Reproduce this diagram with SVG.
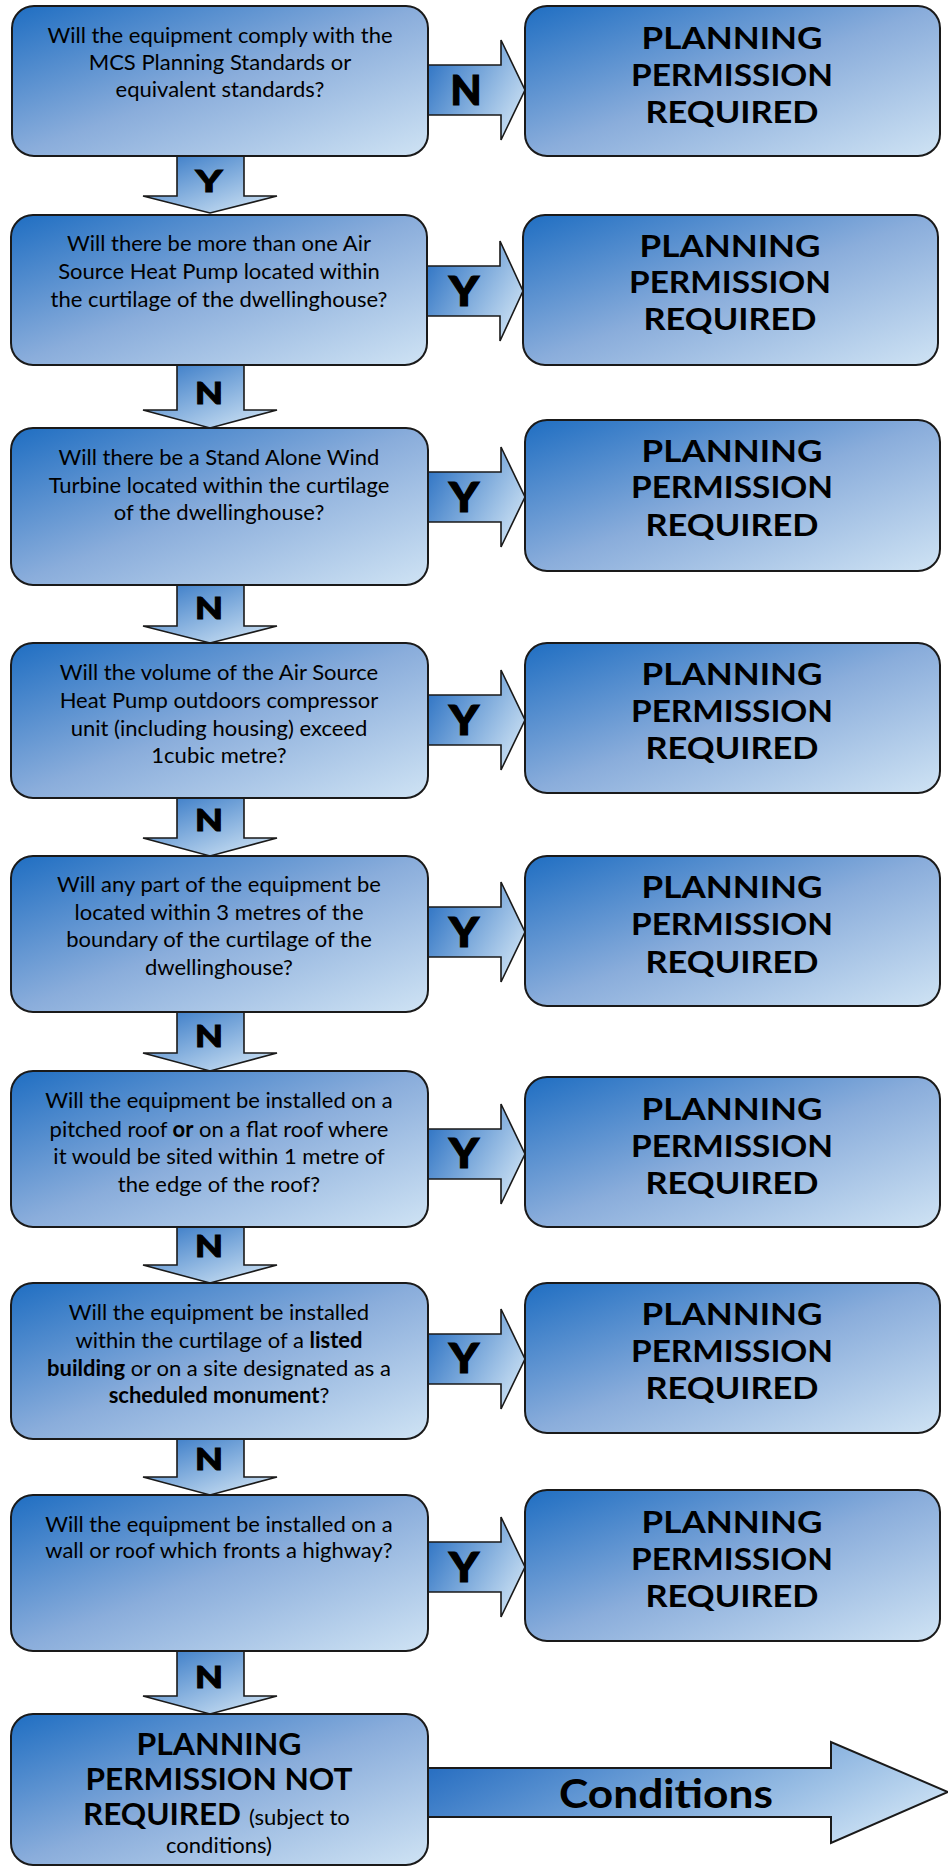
<svg xmlns="http://www.w3.org/2000/svg" width="948" height="1868" viewBox="0 0 948 1868">
<defs>
<linearGradient id="gBox" x1="0" y1="0" x2="1" y2="1">
<stop offset="0" stop-color="#1f6ec2"/>
<stop offset="0.5" stop-color="#8aaddb"/>
<stop offset="1" stop-color="#cfe3f4"/>
</linearGradient>
<linearGradient id="gRight" x1="0" y1="0.2" x2="1" y2="0.8">
<stop offset="0" stop-color="#2f74c4"/>
<stop offset="1" stop-color="#cfe3f4"/>
</linearGradient>
<linearGradient id="gDown" x1="0" y1="0" x2="0.9" y2="1">
<stop offset="0" stop-color="#2f74c4"/>
<stop offset="1" stop-color="#d2e5f5"/>
</linearGradient>
<linearGradient id="gCond" x1="0" y1="0.3" x2="1" y2="0.7">
<stop offset="0" stop-color="#2a70c2"/>
<stop offset="1" stop-color="#d0e4f5"/>
</linearGradient>
</defs>
<style>
.box{fill:url(#gBox);stroke:#1a1a1a;stroke-width:2}
.ra{fill:url(#gRight);stroke:#1a1a1a;stroke-width:1.6;stroke-linejoin:miter}
.da{fill:url(#gDown);stroke:#1a1a1a;stroke-width:1.6;stroke-linejoin:miter}
.ca{fill:url(#gCond);stroke:#1a1a1a;stroke-width:2;stroke-linejoin:miter}
text{font-family:Lato,"Open Sans","DejaVu Sans",sans-serif;fill:#000}
.q{font-size:22px;text-anchor:middle}
.b{font-weight:bold}
.pp{font-size:31px;font-weight:bold;text-anchor:middle}
.rl{font-size:41px;font-weight:900;text-anchor:middle;stroke:#000;stroke-width:1.2}
.dl{font-size:31px;font-weight:900;text-anchor:middle;stroke:#000;stroke-width:1}
.cl{font-size:41px;font-weight:bold;text-anchor:middle}
</style>

<g id="connectors">
<g id="e-q1-r1"><path class="ra" d="M428,65 H501 V40 L525,90 L501,140 V115 H428 Z"/><text class="rl" x="466" y="105" textLength="31" lengthAdjust="spacingAndGlyphs">N</text></g>
<g id="e-q1-q2"><path class="da" d="M177,156 V196 H143 L210,213 L277,196 H244 V156 Z"/><text class="dl" x="209" y="192" textLength="27" lengthAdjust="spacingAndGlyphs">Y</text></g>
<g id="e-q2-r2"><path class="ra" d="M426,266 H500 V241 L523,291 L500,341 V316 H426 Z"/><text class="rl" x="464" y="306" textLength="30" lengthAdjust="spacingAndGlyphs">Y</text></g>
<g id="e-q2-q3"><path class="da" d="M177,365 V410 H143 L210,428 L277,410 H244 V365 Z"/><text class="dl" x="209" y="404" textLength="28" lengthAdjust="spacingAndGlyphs">N</text></g>
<g id="e-q3-r3"><path class="ra" d="M428,472 H501 V447 L525,497 L501,547 V522 H428 Z"/><text class="rl" x="464" y="512" textLength="30" lengthAdjust="spacingAndGlyphs">Y</text></g>
<g id="e-q3-q4"><path class="da" d="M177,585 V626 H143 L210,643 L277,626 H244 V585 Z"/><text class="dl" x="209" y="619" textLength="28" lengthAdjust="spacingAndGlyphs">N</text></g>
<g id="e-q4-r4"><path class="ra" d="M428,695 H501 V670 L525,720 L501,770 V745 H428 Z"/><text class="rl" x="464" y="735" textLength="30" lengthAdjust="spacingAndGlyphs">Y</text></g>
<g id="e-q4-q5"><path class="da" d="M177,798 V838 H143 L210,856 L277,838 H244 V798 Z"/><text class="dl" x="209" y="831" textLength="28" lengthAdjust="spacingAndGlyphs">N</text></g>
<g id="e-q5-r5"><path class="ra" d="M428,907 H501 V882 L525,932 L501,982 V957 H428 Z"/><text class="rl" x="464" y="947" textLength="30" lengthAdjust="spacingAndGlyphs">Y</text></g>
<g id="e-q5-q6"><path class="da" d="M177,1012 V1053 H143 L210,1071 L277,1053 H244 V1012 Z"/><text class="dl" x="209" y="1047" textLength="28" lengthAdjust="spacingAndGlyphs">N</text></g>
<g id="e-q6-r6"><path class="ra" d="M428,1129 H501 V1104 L525,1154 L501,1204 V1179 H428 Z"/><text class="rl" x="464" y="1168" textLength="30" lengthAdjust="spacingAndGlyphs">Y</text></g>
<g id="e-q6-q7"><path class="da" d="M177,1227 V1265 H143 L210,1283 L277,1265 H244 V1227 Z"/><text class="dl" x="209" y="1257" textLength="28" lengthAdjust="spacingAndGlyphs">N</text></g>
<g id="e-q7-r7"><path class="ra" d="M428,1334 H501 V1309 L525,1359 L501,1409 V1384 H428 Z"/><text class="rl" x="464" y="1373" textLength="30" lengthAdjust="spacingAndGlyphs">Y</text></g>
<g id="e-q7-q8"><path class="da" d="M177,1439 V1477 H143 L210,1495 L277,1477 H244 V1439 Z"/><text class="dl" x="209" y="1470" textLength="28" lengthAdjust="spacingAndGlyphs">N</text></g>
<g id="e-q8-r8"><path class="ra" d="M428,1542 H501 V1517 L525,1567 L501,1617 V1592 H428 Z"/><text class="rl" x="464" y="1582" textLength="30" lengthAdjust="spacingAndGlyphs">Y</text></g>
<g id="e-q8-end"><path class="da" d="M177,1651 V1696 H143 L210,1714 L277,1696 H244 V1651 Z"/><text class="dl" x="209" y="1688" textLength="28" lengthAdjust="spacingAndGlyphs">N</text></g>
<g id="e-end-conditions"><path class="ca" d="M428,1768 H831 V1742 L948,1792 L831,1843 V1817 H428 Z"/><text class="cl" x="666" y="1808" textLength="214" lengthAdjust="spacingAndGlyphs">Conditions</text></g>
</g>

<g id="q1"><rect class="box" x="12" y="6" width="416" height="150" rx="22"/>
<text class="q" x="220" y="43">Will the equipment comply with the</text>
<text class="q" x="220" y="70">MCS Planning Standards or</text>
<text class="q" x="220" y="97">equivalent standards?</text></g>
<g id="r1"><rect class="box" x="525" y="6" width="415" height="150" rx="22"/>
<text class="pp" x="732" y="49" textLength="181" lengthAdjust="spacingAndGlyphs">PLANNING</text><text class="pp" x="732" y="86" textLength="202" lengthAdjust="spacingAndGlyphs">PERMISSION</text><text class="pp" x="732" y="123" textLength="173" lengthAdjust="spacingAndGlyphs">REQUIRED</text></g>

<g id="q2"><rect class="box" x="11" y="215" width="416" height="150" rx="22"/>
<text class="q" x="219" y="251">Will there be more than one Air</text>
<text class="q" x="219" y="279">Source Heat Pump located within</text>
<text class="q" x="219" y="307">the curtilage of the dwellinghouse?</text></g>
<g id="r2"><rect class="box" x="523" y="215" width="415" height="150" rx="22"/>
<text class="pp" x="730" y="257" textLength="181" lengthAdjust="spacingAndGlyphs">PLANNING</text><text class="pp" x="730" y="293" textLength="202" lengthAdjust="spacingAndGlyphs">PERMISSION</text><text class="pp" x="730" y="330" textLength="173" lengthAdjust="spacingAndGlyphs">REQUIRED</text></g>

<g id="q3"><rect class="box" x="11" y="428" width="417" height="157" rx="22"/>
<text class="q" x="219" y="465">Will there be a Stand Alone Wind</text>
<text class="q" x="219" y="493">Turbine located within the curtilage</text>
<text class="q" x="219" y="520">of the dwellinghouse?</text></g>
<g id="r3"><rect class="box" x="525" y="420" width="415" height="151" rx="22"/>
<text class="pp" x="732" y="462" textLength="181" lengthAdjust="spacingAndGlyphs">PLANNING</text><text class="pp" x="732" y="498" textLength="202" lengthAdjust="spacingAndGlyphs">PERMISSION</text><text class="pp" x="732" y="536" textLength="173" lengthAdjust="spacingAndGlyphs">REQUIRED</text></g>

<g id="q4"><rect class="box" x="11" y="643" width="417" height="155" rx="22"/>
<text class="q" x="219" y="680">Will the volume of the Air Source</text>
<text class="q" x="219" y="708">Heat Pump outdoors compressor</text>
<text class="q" x="219" y="736">unit (including housing) exceed</text>
<text class="q" x="219" y="763">1cubic metre?</text></g>
<g id="r4"><rect class="box" x="525" y="643" width="415" height="150" rx="22"/>
<text class="pp" x="732" y="685" textLength="181" lengthAdjust="spacingAndGlyphs">PLANNING</text><text class="pp" x="732" y="722" textLength="202" lengthAdjust="spacingAndGlyphs">PERMISSION</text><text class="pp" x="732" y="759" textLength="173" lengthAdjust="spacingAndGlyphs">REQUIRED</text></g>

<g id="q5"><rect class="box" x="11" y="856" width="417" height="156" rx="22"/>
<text class="q" x="219" y="892">Will any part of the equipment be</text>
<text class="q" x="219" y="920">located within 3 metres of the</text>
<text class="q" x="219" y="947">boundary of the curtilage of the</text>
<text class="q" x="219" y="975">dwellinghouse?</text></g>
<g id="r5"><rect class="box" x="525" y="856" width="415" height="150" rx="22"/>
<text class="pp" x="732" y="898" textLength="181" lengthAdjust="spacingAndGlyphs">PLANNING</text><text class="pp" x="732" y="935" textLength="202" lengthAdjust="spacingAndGlyphs">PERMISSION</text><text class="pp" x="732" y="973" textLength="173" lengthAdjust="spacingAndGlyphs">REQUIRED</text></g>

<g id="q6"><rect class="box" x="11" y="1071" width="417" height="156" rx="22"/>
<text class="q" x="219" y="1108">Will the equipment be installed on a</text>
<text class="q" x="219" y="1137">pitched roof <tspan class="b">or</tspan> on a flat roof where</text>
<text class="q" x="219" y="1164">it would be sited within 1 metre of</text>
<text class="q" x="219" y="1192">the edge of the roof?</text></g>
<g id="r6"><rect class="box" x="525" y="1077" width="415" height="150" rx="22"/>
<text class="pp" x="732" y="1120" textLength="181" lengthAdjust="spacingAndGlyphs">PLANNING</text><text class="pp" x="732" y="1157" textLength="202" lengthAdjust="spacingAndGlyphs">PERMISSION</text><text class="pp" x="732" y="1194" textLength="173" lengthAdjust="spacingAndGlyphs">REQUIRED</text></g>

<g id="q7"><rect class="box" x="11" y="1283" width="417" height="156" rx="22"/>
<text class="q" x="219" y="1320">Will the equipment be installed</text>
<text class="q" x="219" y="1348">within the curtilage of a <tspan class="b">listed</tspan></text>
<text class="q" x="219" y="1376"><tspan class="b">building</tspan> or on a site designated as a</text>
<text class="q" x="219" y="1403"><tspan class="b">scheduled monument</tspan>?</text></g>
<g id="r7"><rect class="box" x="525" y="1283" width="415" height="150" rx="22"/>
<text class="pp" x="732" y="1325" textLength="181" lengthAdjust="spacingAndGlyphs">PLANNING</text><text class="pp" x="732" y="1362" textLength="202" lengthAdjust="spacingAndGlyphs">PERMISSION</text><text class="pp" x="732" y="1399" textLength="173" lengthAdjust="spacingAndGlyphs">REQUIRED</text></g>

<g id="q8"><rect class="box" x="11" y="1495" width="417" height="156" rx="22"/>
<text class="q" x="219" y="1532">Will the equipment be installed on a</text>
<text class="q" x="219" y="1558">wall or roof which fronts a highway?</text></g>
<g id="r8"><rect class="box" x="525" y="1490" width="415" height="151" rx="22"/>
<text class="pp" x="732" y="1533" textLength="181" lengthAdjust="spacingAndGlyphs">PLANNING</text><text class="pp" x="732" y="1570" textLength="202" lengthAdjust="spacingAndGlyphs">PERMISSION</text><text class="pp" x="732" y="1607" textLength="173" lengthAdjust="spacingAndGlyphs">REQUIRED</text></g>

<g id="end"><rect class="box" x="11" y="1714" width="417" height="151" rx="22"/>
<text class="pp" x="219" y="1755" textLength="165" lengthAdjust="spacingAndGlyphs">PLANNING</text>
<text class="pp" x="219" y="1790" textLength="267" lengthAdjust="spacingAndGlyphs">PERMISSION NOT</text>
<text class="pp" x="83" y="1825" text-anchor="start" style="text-anchor:start" textLength="158" lengthAdjust="spacingAndGlyphs">REQUIRED</text>
<text class="q" x="249" y="1825" style="text-anchor:start">(subject to</text>
<text class="q" x="219" y="1853">conditions)</text></g>
</svg>
